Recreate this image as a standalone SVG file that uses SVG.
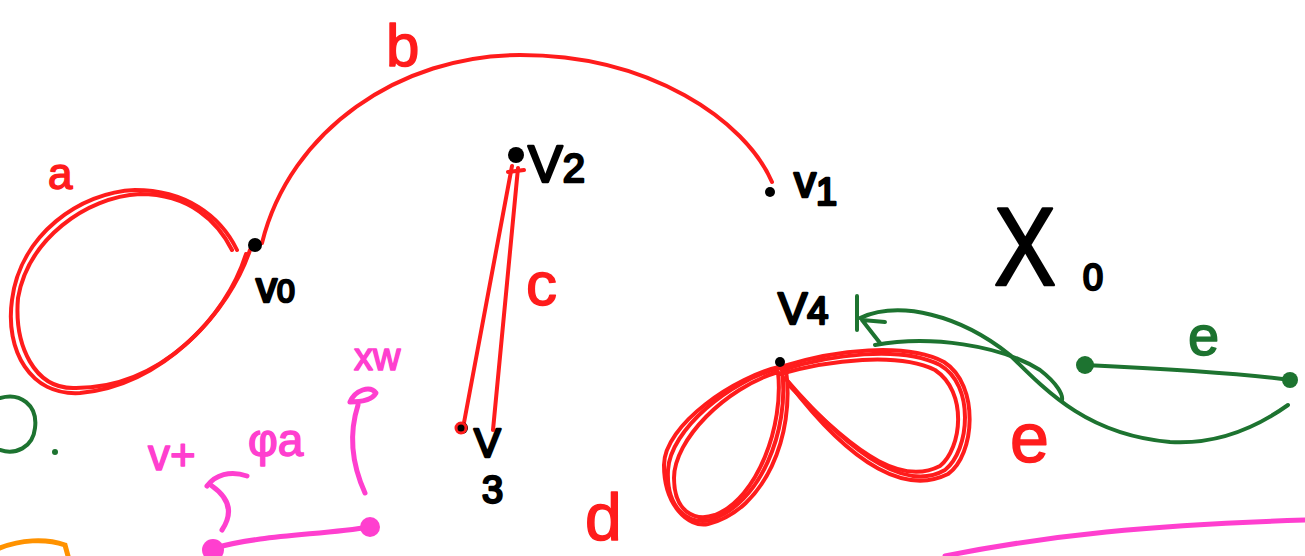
<svg xmlns="http://www.w3.org/2000/svg" width="1305" height="556" viewBox="0 0 1305 556">
<style>
.r{fill:none;stroke:#ff1c1c;stroke-width:4;stroke-linecap:round;stroke-linejoin:round}
.g{fill:none;stroke:#1d7330;stroke-width:4;stroke-linecap:round;stroke-linejoin:round}
.p{fill:none;stroke:#ff3fcf;stroke-width:5;stroke-linecap:round;stroke-linejoin:round}
.o{fill:none;stroke:#ff9200;stroke-width:5;stroke-linecap:round}
.t{font-family:"Liberation Sans","DejaVu Sans",sans-serif;stroke-width:1.5;stroke-linejoin:round}
.tk{fill:#000;stroke:#000;stroke-width:2.5}
.tr{fill:#ff1c1c;stroke:#ff1c1c}
.tg{fill:#1d7330;stroke:#1d7330}
.tp{fill:#ff3fcf;stroke:#ff3fcf}
</style>
<rect width="1305" height="556" fill="#fff"/>
<g id="connectors">
  <g id="edge-a">
    <path class="r" d="M250,250 C230,310 165,385 80,393 C30,396 5,350 12,300 C20,235 80,192 135,190 C185,190 220,215 237,250"/>
    <path class="r" d="M246,254 C226,318 160,388 76,388 C34,390 14,345 18,298 C28,240 85,197 140,194 C190,194 218,222 232,250"/>
    <text class="t tr" x="48" y="189" font-size="44">a</text>
  </g>
  <g id="edge-b">
    <path class="r" d="M262,243 C290,130 400,55 520,55 C650,55 745,120 772,182"/>
    <text class="t tr" x="386" y="66" font-size="60">b</text>
  </g>
  <g id="edge-c">
    <path class="r" d="M512,166 L463,428"/>
    <path class="r" d="M518,168 L493,430"/>
    <path class="r" d="M508,172 L524,170"/>
    <text class="t tr" x="526" y="305" font-size="62">c</text>
  </g>
  <g id="edge-d">
    <path class="r" d="M780,368 C730,380 670,430 668,470 C666,510 690,525 710,520 C760,505 790,430 782,370"/>
    <path class="r" d="M778,372 C725,388 674,440 674,478 C674,512 695,522 715,515 C758,498 784,425 778,372"/>
    <path class="r" d="M783,366 C735,376 664,425 664,465 C664,505 688,528 708,524 C765,510 795,435 786,370"/>
    <path class="r" d="M782,370 C830,355 900,345 940,365 C975,385 970,450 945,470 C910,490 860,465 785,378"/>
    <path class="r" d="M784,366 C835,350 905,342 944,362 C980,385 975,455 948,474 C908,494 855,470 788,382"/>
    <path class="r" d="M780,374 C830,360 898,352 935,370 C968,392 962,448 940,466 C905,484 862,462 790,386"/>
    <text class="t tr" x="585" y="540" font-size="66">d</text>
    <text class="t tr" x="1010" y="462" font-size="70">e</text>
  </g>
  <g id="edge-e">
    <path class="g" d="M1085,365 C1150,368 1230,372 1290,380"/>
    <circle cx="1085" cy="365" r="9" fill="#1d7330"/>
    <circle cx="1290" cy="380" r="8" fill="#1d7330"/>
    <path class="g" d="M860,318 C900,300 960,315 1010,355 C1050,395 1090,435 1170,442 C1220,445 1260,425 1288,405"/>
    <path class="g" d="M875,345 C930,335 1000,345 1040,370 C1058,384 1063,395 1062,400"/>
    <path class="g" d="M857,296 L857,330 M885,322 L862,320 L880,343"/>
    <text class="t tg" x="1188" y="355" font-size="56">e</text>
  </g>
</g>
<g id="v0">
  <circle cx="255" cy="245" r="7" fill="#000"/>
  <text class="t tk" x="256" y="302" font-size="42">v<tspan font-size="32">0</tspan></text>
</g>
<g id="v1">
  <circle cx="770" cy="192" r="5" fill="#000"/>
  <text class="t tk" x="794" y="197" font-size="44">v<tspan font-size="38" dy="8">1</tspan></text>
</g>
<g id="v2">
  <circle cx="516" cy="155" r="8" fill="#000"/>
  <text class="t tk" x="528" y="182" font-size="52">V<tspan font-size="40">2</tspan></text>
</g>
<g id="v3">
  <circle cx="462" cy="428" r="6" fill="#000"/>
  <circle cx="461" cy="428" r="5" fill="none" stroke="#ff1c1c" stroke-width="3"/>
  <text class="t tk" x="474" y="457" font-size="40">V</text>
  <text class="t tk" x="482" y="503" font-size="38">3</text>
</g>
<g id="v4">
  <circle cx="780" cy="362" r="5" fill="#000"/>
  <text class="t tk" x="778" y="324" font-size="44">V<tspan font-size="38">4</tspan></text>
</g>
<g id="X0">
  <text class="t tk" x="994" y="285" font-size="112" textLength="62" lengthAdjust="spacingAndGlyphs">X</text>
  <text class="t tk" x="1083" y="290" font-size="36">0</text>
</g>
<g id="pink">
  <path class="p" d="M215,548 C260,535 320,535 370,527"/>
  <circle cx="213" cy="550" r="11" fill="#ff3fcf"/>
  <circle cx="370" cy="527" r="10" fill="#ff3fcf"/>
  <path class="p" d="M207,486 C215,475 230,470 247,476 M212,486 C232,500 232,515 222,530"/>
  <path class="p" d="M365,493 C350,460 350,430 358,405 M350,402 C355,390 370,385 376,393 C372,400 360,402 350,402"/>
  <path class="p" d="M945,556 C1050,535 1150,525 1305,520"/>
  <text class="t tp" x="148" y="470" font-size="44">v+</text>
  <text class="t tp" x="248" y="456" font-size="46">φa</text>
  <text class="t tp" x="354" y="370" font-size="38">xw</text>
</g>
<g id="edges-left">
  <path class="g" d="M0,398 C20,392 38,405 35,428 C33,448 15,455 0,450"/>
  <circle cx="55" cy="452" r="3" fill="#1d7330"/>
  <path class="o" d="M0,548 C20,540 45,538 65,545 L68,556"/>
</g>
</svg>
